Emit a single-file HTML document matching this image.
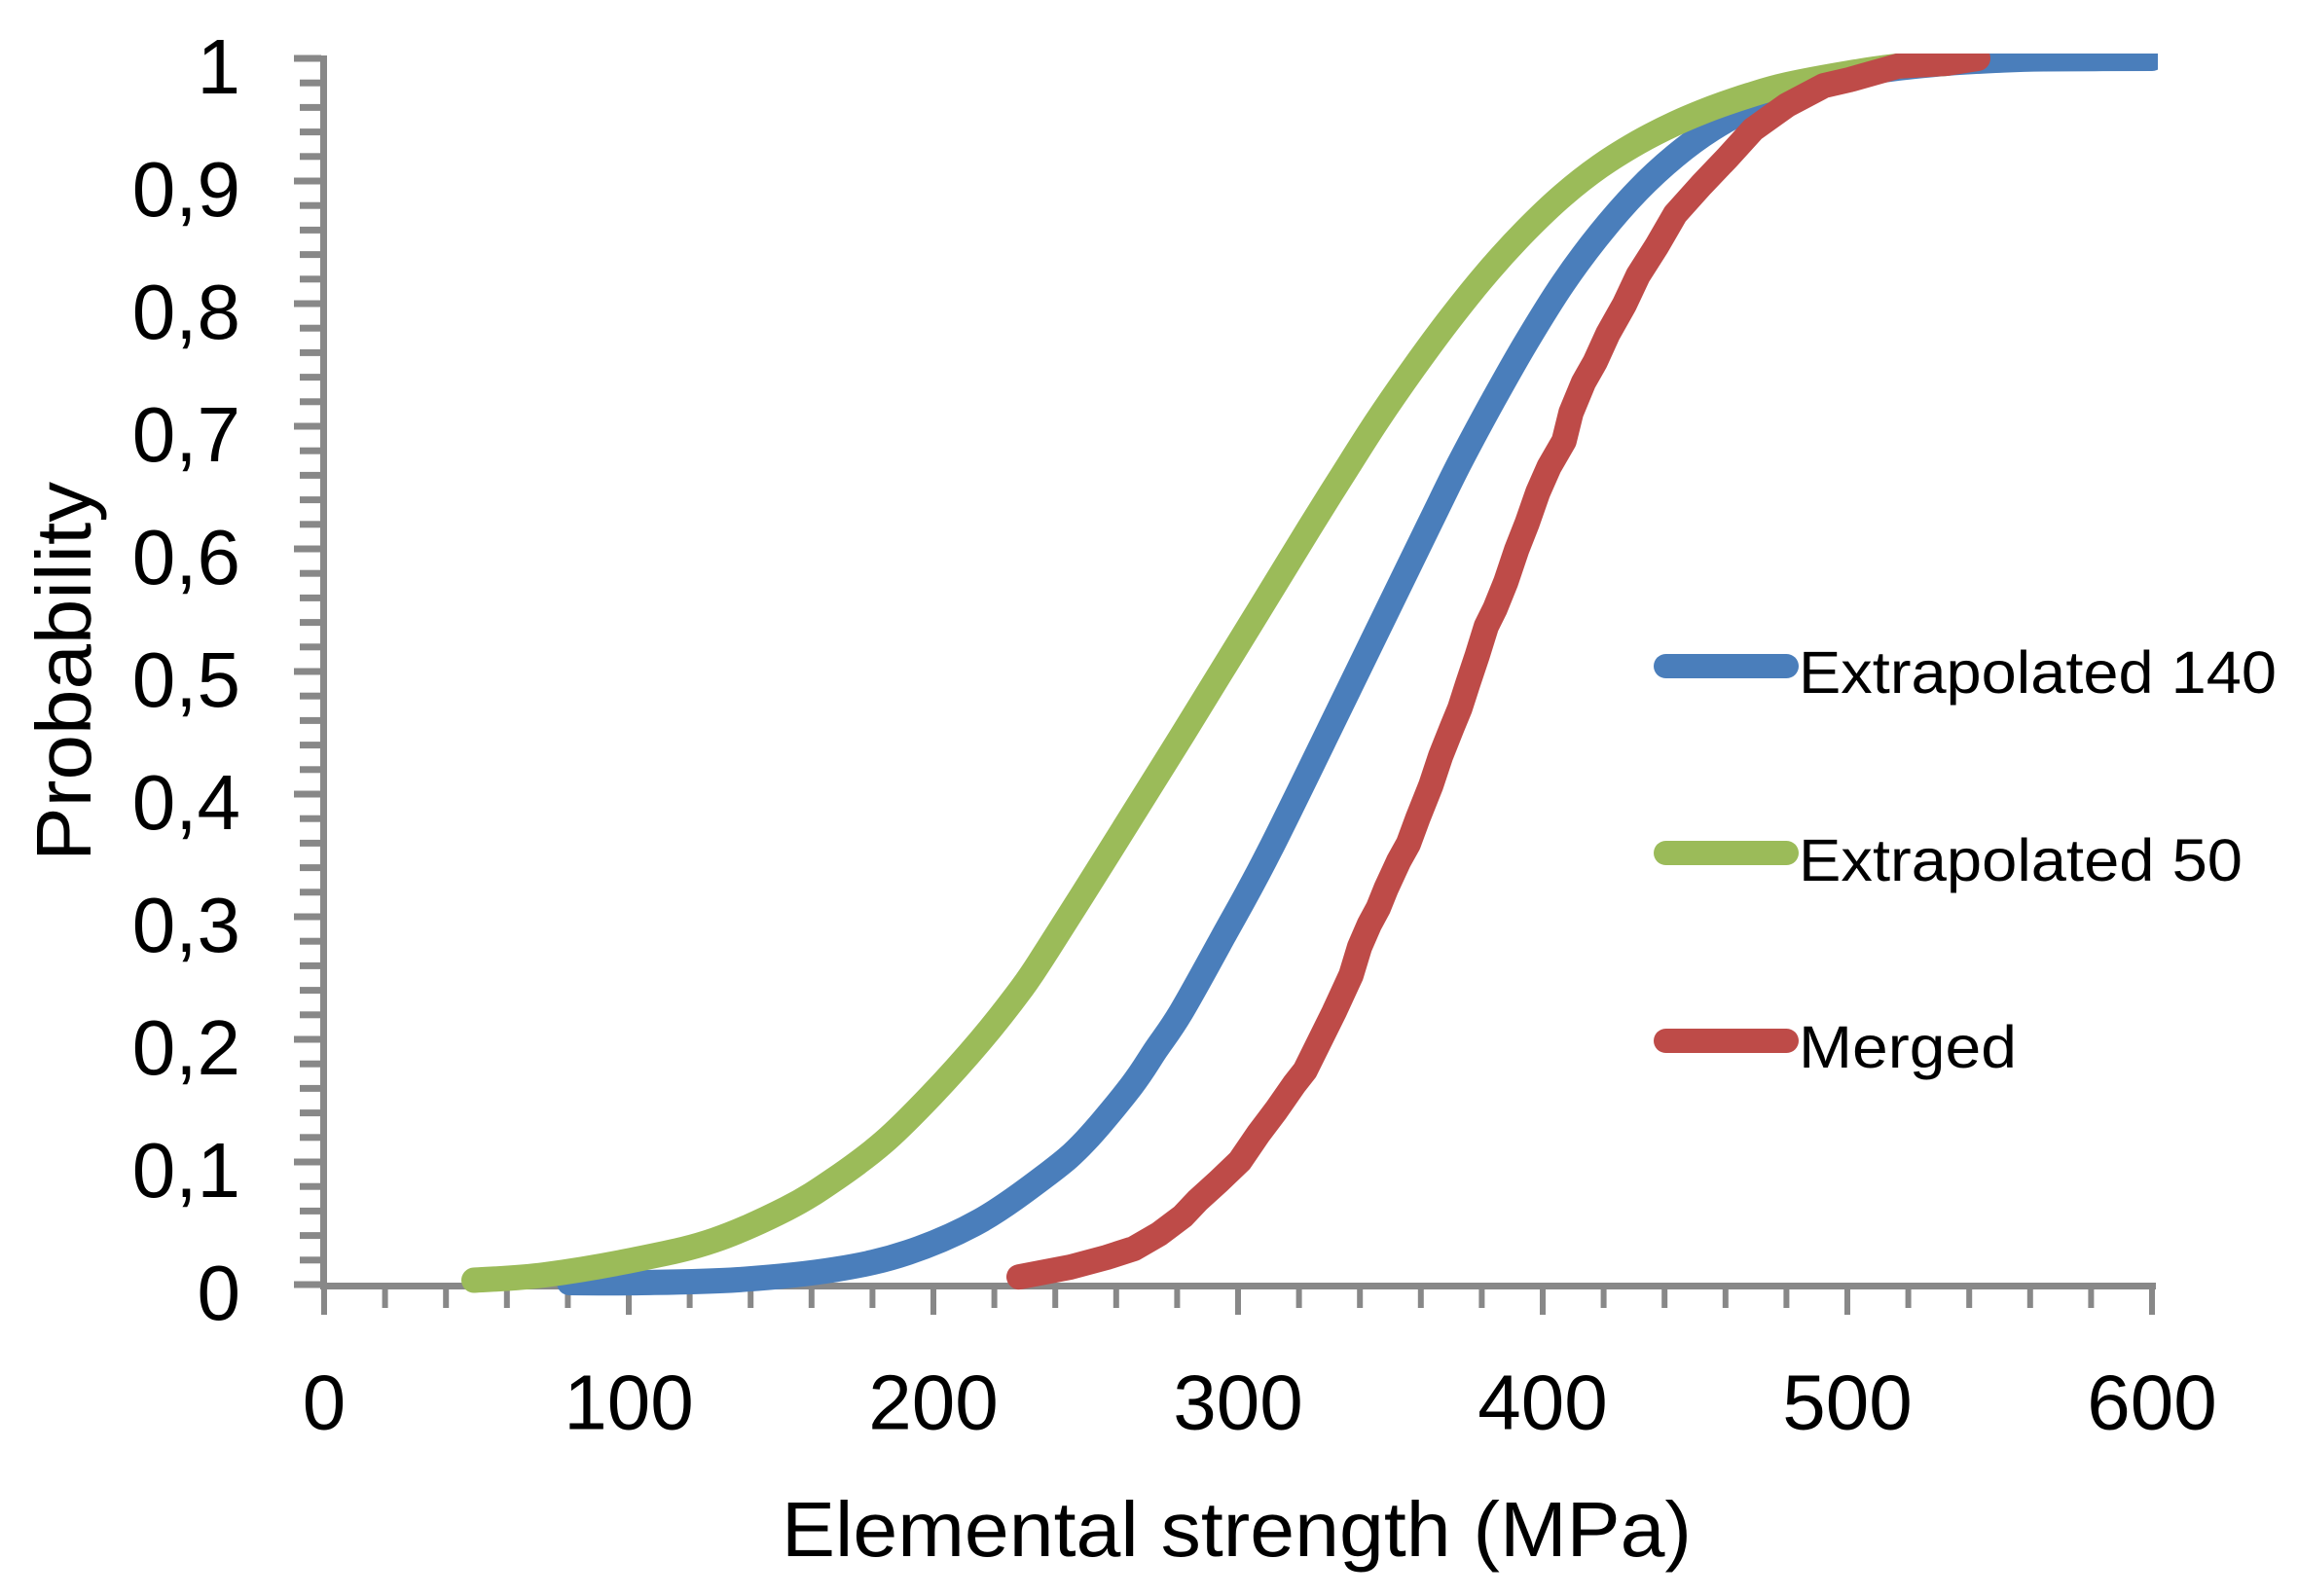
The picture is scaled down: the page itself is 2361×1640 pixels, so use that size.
<!DOCTYPE html>
<html lang="en">
<head>
<meta charset="utf-8">
<title>Elemental strength probability chart</title>
<style>
  html, body { margin: 0; padding: 0; background: #ffffff; }
  svg { display: block; }
  text { font-family: "Liberation Sans", sans-serif; fill: #000000; }
</style>
</head>
<body>
<svg id="chart" xmlns="http://www.w3.org/2000/svg" width="2361" height="1640" viewBox="0 0 2361 1640">
  <defs>
    <clipPath id="plot-clip"><rect x="300" y="55" width="1917" height="1300"></rect></clipPath>
  </defs>
  <rect x="0" y="0" width="2361" height="1640" fill="#ffffff"></rect>
  <g id="grid-axes"></g>
  <g id="series-layer" clip-path="url(#plot-clip)"></g>
  <g id="tick-labels"></g>

  <text x="803" y="1599" font-size="80" textLength="935" lengthAdjust="spacingAndGlyphs">Elemental strength (MPa)</text>
  <text transform="translate(93,885) rotate(-90)" font-size="80" textLength="390" lengthAdjust="spacingAndGlyphs">Probability</text>

  <g>
    <line x1="1711.5" x2="1835.5" y1="684.5" y2="684.5" stroke="#4A7EBB" stroke-width="25" stroke-linecap="round"></line>
    <text x="1848" y="712" font-size="61" textLength="491" lengthAdjust="spacingAndGlyphs">Extrapolated 140</text>
    <line x1="1711.5" x2="1835.5" y1="876.5" y2="876.5" stroke="#9BBB59" stroke-width="25" stroke-linecap="round"></line>
    <text x="1848" y="905" font-size="61" textLength="456" lengthAdjust="spacingAndGlyphs">Extrapolated 50</text>
    <line x1="1711.5" x2="1835.5" y1="1069.5" y2="1069.5" stroke="#BE4B48" stroke-width="25" stroke-linecap="round"></line>
    <text x="1848" y="1097" font-size="61" textLength="224" lengthAdjust="spacingAndGlyphs">Merged</text>
  </g>
</svg>
<script>
var xTickLabels = ["0", "100", "200", "300", "400", "500", "600"];
var xTickValues = [0, 100, 200, 300, 400, 500, 600];
var yTickLabels = ["0", "0,1", "0,2", "0,3", "0,4", "0,5", "0,6", "0,7", "0,8", "0,9", "1"];
var yTickValues = [0, 0.1, 0.2, 0.3, 0.4, 0.5, 0.6, 0.7, 0.8, 0.9, 1];

var blueStrength = [80.5, 104.2, 135.9, 167.7, 191.6, 215.3, 237.7, 250, 265, 273, 281.3, 295, 310.5, 336.6, 362.6, 372.5, 383.4, 394.6, 406.7, 418.8, 431.3, 443.5, 455.6, 467.7, 484.7, 500.6, 516.6, 532.6, 548.6, 564.5, 600];
var blueProbability = [0.0016, 0.0016, 0.004, 0.0123, 0.0262, 0.052, 0.0905, 0.1175, 0.162, 0.1915, 0.2222, 0.2832, 0.3545, 0.4867, 0.619, 0.669, 0.7195, 0.7685, 0.8165, 0.857, 0.8925, 0.9205, 0.9425, 0.959, 0.9762, 0.9857, 0.9921, 0.996, 0.9984, 0.9996, 1];

var greenStrength = [49.2, 72.4, 104.2, 128, 151.8, 167.7, 183.7, 199.5, 215.3, 229.1, 237.7, 257.8, 272.5, 281.2, 303.8, 323.3, 334, 345.7, 357.8, 370, 382.4, 394.6, 406.7, 418.8, 431.3, 443.5, 455.6, 467.9, 480.2, 500.6, 516.6, 532.6];
var greenProbability = [0.0036, 0.0079, 0.0214, 0.0361, 0.0619, 0.0861, 0.1162, 0.1548, 0.1985, 0.242, 0.274, 0.353, 0.4115, 0.4462, 0.5375, 0.6165, 0.659, 0.7045, 0.748, 0.789, 0.827, 0.86, 0.8885, 0.912, 0.9315, 0.947, 0.9595, 0.97, 0.9785, 0.988, 0.9937, 0.996];

var redStrength = [228.1, 245, 256.9, 265.8, 274.1, 281.8, 286.6, 293.6, 300.6, 306.7, 312.5, 318.5, 322, 331.5, 337.1, 339.9, 343.1, 346, 348.6, 352.7, 355.9, 359.1, 363.3, 366.5, 370.3, 372.8, 375.4, 378.5, 381.5, 384.3, 387.9, 391.4, 394.9, 398.4, 402.1, 407, 409.3, 413.4, 417.2, 421.4, 426.8, 431.3, 437.4, 443.5, 452.1, 460.6, 469, 480.2, 492.3, 500.6, 516.6, 532.6, 542.8];
var redProbability = [0.0063, 0.0143, 0.0222, 0.0294, 0.0413, 0.0556, 0.0683, 0.0841, 0.1008, 0.123, 0.1421, 0.1635, 0.1746, 0.2222, 0.2524, 0.2754, 0.2937, 0.3071, 0.323, 0.3452, 0.3595, 0.381, 0.4071, 0.431, 0.4548, 0.47, 0.49, 0.513, 0.537, 0.551, 0.573, 0.599, 0.621, 0.646, 0.667, 0.688, 0.7111, 0.7357, 0.7524, 0.7754, 0.7992, 0.823, 0.8468, 0.873, 0.8968, 0.919, 0.942, 0.9619, 0.9778, 0.9825, 0.9937, 0.996, 1];

function xScale(v) { return 333 + (v / 600) * 1878; }
function yScale(p) { return 1320 - p * 1260; }

var SVG_NS = "http://www.w3.org/2000/svg";
var axesLayer = document.getElementById("grid-axes");
var seriesLayer = document.getElementById("series-layer");
var labelLayer = document.getElementById("tick-labels");
var AXIS_COLOR = "#888888";

function drawRect(parent, x, y, w, h) {
  var r = document.createElementNS(SVG_NS, "rect");
  r.setAttribute("x", x);
  r.setAttribute("y", y);
  r.setAttribute("width", w);
  r.setAttribute("height", h);
  r.setAttribute("fill", AXIS_COLOR);
  parent.appendChild(r);
  return r;
}

var xAxisLine = drawRect(axesLayer, 329, 1318, 1886, 7);


var yAxisLine = drawRect(axesLayer, 329, 57, 7, 1268);



for (var i = 0; i <= 30; i++) {
  var isMajorX = i % 5 === 0;
  var xTick = drawRect(axesLayer, xScale(i * 20) - 3, 1320, 6, isMajorX ? 31 : 24);
  
  
}
for (var j = 0; j <= 50; j++) {
  var isMajorY = j % 5 === 0;
  var left = isMajorY ? 302 : 308;
  var yTick = drawRect(axesLayer, left, yScale(j * 0.02) - 3.5, 330 - left, 7);
  
  
}

xTickValues.forEach(function (v, k) {
  var t = document.createElementNS(SVG_NS, "text");
  t.setAttribute("x", xScale(v));
  t.setAttribute("y", 1468.5);
  t.setAttribute("font-size", "80");
  t.setAttribute("text-anchor", "middle");
  t.textContent = xTickLabels[k];
  
  
  labelLayer.appendChild(t);
});

yTickValues.forEach(function (v, k) {
  var t = document.createElementNS(SVG_NS, "text");
  t.setAttribute("x", 247);
  t.setAttribute("y", yScale(v) + 36);
  t.setAttribute("font-size", "80");
  t.setAttribute("text-anchor", "end");
  t.textContent = yTickLabels[k];
  
  
  labelLayer.appendChild(t);
});

function linePath(xs, ys) {
  var d = "";
  for (var n = 0; n < xs.length; n++) {
    d += (n === 0 ? "M" : "L") + xScale(xs[n]).toFixed(1) + " " + yScale(ys[n]).toFixed(1);
  }
  return d;
}

function smoothPath(xs, ys) {
  var px = xs.map(xScale);
  var py = ys.map(yScale);
  var d = "M" + px[0].toFixed(1) + " " + py[0].toFixed(1);
  for (var n = 0; n < px.length - 1; n++) {
    var a = Math.max(n - 1, 0);
    var b = Math.min(n + 2, px.length - 1);
    var c1x = px[n] + (px[n + 1] - px[a]) / 6;
    var c1y = py[n] + (py[n + 1] - py[a]) / 6;
    var c2x = px[n + 1] - (px[b] - px[n]) / 6;
    var c2y = py[n + 1] - (py[b] - py[n]) / 6;
    d += "C" + c1x.toFixed(1) + " " + c1y.toFixed(1) + " " + c2x.toFixed(1) + " " + c2y.toFixed(1) + " " + px[n + 1].toFixed(1) + " " + py[n + 1].toFixed(1);
  }
  return d;
}

function drawSeries(d, color) {
  var path = document.createElementNS(SVG_NS, "path");
  path.setAttribute("d", d);
  path.setAttribute("fill", "none");
  path.setAttribute("stroke", color);
  path.setAttribute("stroke-width", "26");
  path.setAttribute("stroke-linecap", "round");
  path.setAttribute("stroke-linejoin", "round");
  seriesLayer.appendChild(path);
  return path;
}

var blueLine = drawSeries(smoothPath(blueStrength, blueProbability), "#4A7EBB");


var greenLine = drawSeries(smoothPath(greenStrength, greenProbability), "#9BBB59");


var redLine = drawSeries(linePath(redStrength, redProbability), "#BE4B48");


</script>
</body>
</html>
